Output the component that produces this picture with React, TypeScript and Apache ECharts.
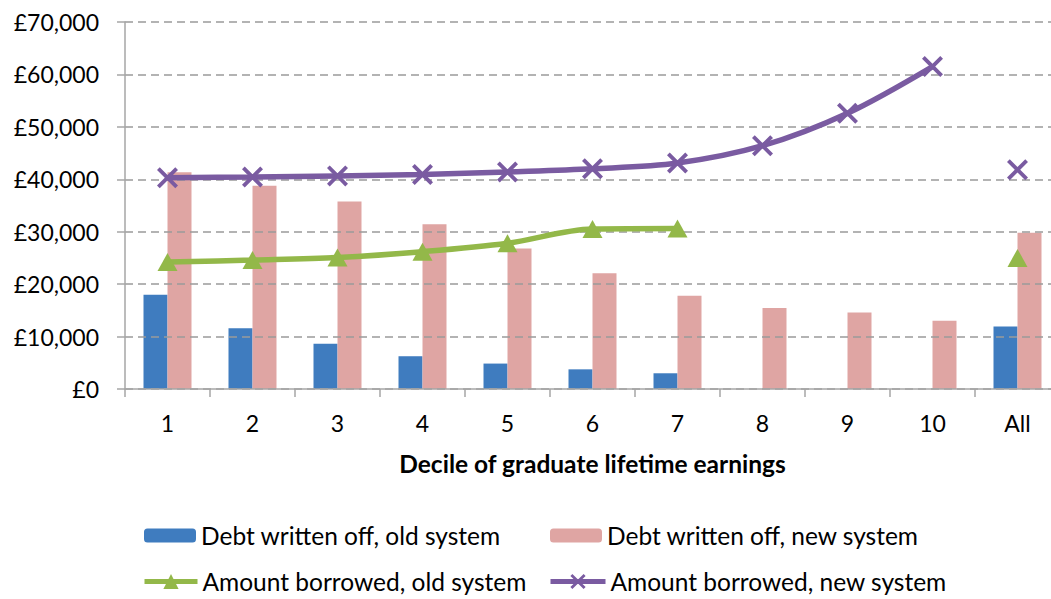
import React, { useEffect, useRef } from "react";
import * as echarts from "echarts";

const categories = ["1", "2", "3", "4", "5", "6", "7", "8", "9", "10", "All"];
const debtOld = [18000, 11600, 8650, 6250, 4850, 3750, 3000, null, null, null, 11900];
const debtNew = [41350, 38750, 35750, 31400, 26800, 22100, 17800, 15450, 14600, 13000, 29800];
const borrowedOld = [24200, 24600, 25100, 26200, 27800, 30500, 30600, null, null, null, 25000];
const borrowedNew = [40300, 40450, 40650, 40900, 41400, 42000, 43100, 46400, 52600, 61500, null];
const borrowedNewAll = [null, null, null, null, null, null, null, null, null, null, 41800];
const yTicks = { min: 0, max: 70000, interval: 10000 };

const names = {
  debtOld: "Debt written off, old system",
  debtNew: "Debt written off, new system",
  borOld: "Amount borrowed, old system",
  borNew: "Amount borrowed, new system",
};

const FONT = "Lato, 'Open Sans', sans-serif";
const X_PATH =
  "path://M0,2.6L2.6,0L10,7.4L17.4,0L20,2.6L12.6,10L20,17.4L17.4,20L10,12.6L2.6,20L0,17.4L7.4,10Z";

export default function App() {
  const ref = useRef<HTMLDivElement>(null);
  useEffect(() => {
    if (!ref.current) return;
    const chart = echarts.init(ref.current, undefined, { renderer: "svg" });
    const legendText = { fontSize: 24.5, fontFamily: FONT, color: "#000" };
    const purple = "#7A5BA1";
    const green = "#93B849";
    const lineLegend = { width: 5 };
    chart.setOption({
      animation: false,
      backgroundColor: "#fff",
      grid: { left: 125, right: 0, top: 22, bottom: 210, containLabel: false },
      legend: [
        { data: [names.debtOld], left: 139, top: 518, itemWidth: 52, itemHeight: 14, textStyle: legendText },
        { data: [names.debtNew], left: 545, top: 518, itemWidth: 52, itemHeight: 14, textStyle: legendText },
        { data: [names.borOld], left: 137, top: 564, itemWidth: 53, itemHeight: 19, textStyle: legendText, lineStyle: lineLegend },
        { data: [names.borNew], left: 543, top: 564, itemWidth: 55, itemHeight: 19, textStyle: legendText, lineStyle: lineLegend },
      ],
      xAxis: {
        type: "category",
        data: categories,
        boundaryGap: true,
        z: 2,
        axisLine: { lineStyle: { color: "#A6A6A6", width: 1.5 } },
        axisTick: { show: true, length: 8, lineStyle: { color: "#A6A6A6", width: 1.5 } },
        axisLabel: { fontSize: 23, fontFamily: FONT, color: "#000", margin: 22 },
        name: "Decile of graduate lifetime earnings",
        nameLocation: "middle",
        nameGap: 62,
        nameTextStyle: { fontSize: 24.5, fontFamily: FONT, fontWeight: "bold", color: "#000" },
      },
      yAxis: {
        type: "value",
        min: yTicks.min,
        max: yTicks.max,
        interval: yTicks.interval,
        z: 2,
        axisLine: { show: true, lineStyle: { color: "#A6A6A6", width: 1.5 } },
        axisTick: { show: true, length: 8, lineStyle: { color: "#A6A6A6", width: 1.5 } },
        axisLabel: {
          fontSize: 23,
          fontFamily: FONT,
          color: "#000",
          margin: 26,
          formatter: (v: number) => "£" + v.toLocaleString("en-GB"),
        },
        splitLine: { show: true, lineStyle: { color: "#9A9A9A", width: 1.5, type: [8, 5] } },
      },
      series: [
        {
          name: names.debtOld,
          type: "bar",
          data: debtOld,
          barWidth: 24,
          barGap: "0%",
          z: 1,
          itemStyle: { color: "#3F7CBF" },
        },
        {
          name: names.debtNew,
          type: "bar",
          data: debtNew,
          barWidth: 24,
          barGap: "0%",
          z: 1,
          itemStyle: { color: "#DFA5A3" },
        },
        {
          name: names.borOld,
          type: "line",
          data: borrowedOld,
          smooth: 0.33,
          connectNulls: false,
          z: 3,
          symbol: "triangle",
          symbolSize: [20, 18],
          showSymbol: true,
          lineStyle: { color: green, width: 5.5 },
          itemStyle: { color: green },
        },
        {
          name: names.borNew,
          type: "line",
          data: borrowedNew,
          smooth: 0.33,
          z: 3,
          symbol: X_PATH,
          symbolSize: 21,
          showSymbol: true,
          lineStyle: { color: purple, width: 5.5 },
          itemStyle: { color: purple },
        },
        {
          name: names.borNew,
          type: "line",
          data: borrowedNewAll,
          z: 3,
          symbol: X_PATH,
          symbolSize: 21,
          showSymbol: true,
          lineStyle: { color: purple, width: 5.5 },
          itemStyle: { color: purple },
        },
      ],
    });
    return () => chart.dispose();
  }, []);
  return (
    <div
      style={{ position: "fixed", left: 0, top: 0, width: 1051, height: 599, overflow: "hidden", background: "#fff" }}
    >
      <div ref={ref} style={{ width: 1060, height: 599 }} />
    </div>
  );
}
